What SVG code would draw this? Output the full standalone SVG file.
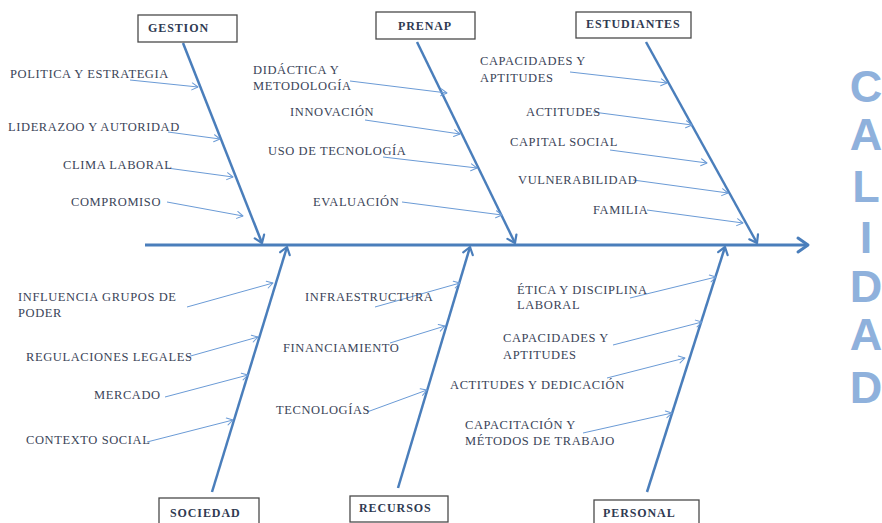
<svg xmlns="http://www.w3.org/2000/svg" width="882" height="523" viewBox="0 0 882 523">
<defs>
<marker id="bigArrow" markerUnits="userSpaceOnUse" markerWidth="20" markerHeight="20" viewBox="0 0 20 20" refX="13" refY="10" orient="auto">
<path d="M3,3 L13,10 L3,17" fill="none" stroke="#4a7ebb" stroke-width="3" stroke-linecap="round" stroke-linejoin="round"/>
</marker>
<marker id="boneArrow" markerUnits="userSpaceOnUse" markerWidth="16" markerHeight="16" viewBox="0 0 16 16" refX="11" refY="8" orient="auto">
<path d="M4,3 L11,8 L4,13" fill="none" stroke="#4a7ebb" stroke-width="2.2" stroke-linecap="round" stroke-linejoin="round"/>
</marker>
<marker id="smallArrow" markerUnits="userSpaceOnUse" markerWidth="12" markerHeight="12" viewBox="0 0 12 12" refX="9" refY="6" orient="auto">
<path d="M3,2.5 L9,6 L3,9.5" fill="none" stroke="#6b9bd6" stroke-width="1" stroke-linecap="round" stroke-linejoin="round"/>
</marker>
</defs>
<style>
.box{fill:#ffffff;stroke:#4a4a4a;stroke-width:1.3}
.head{font-family:"Liberation Serif","Times New Roman",serif;font-weight:bold;font-size:12px;letter-spacing:0.9px;fill:#2f3a52}
.lbl{font-family:"Liberation Serif","Times New Roman",serif;font-size:12.5px;letter-spacing:0.6px;fill:#3a4458}
.spine{stroke:#4a7ebb;stroke-width:3;fill:none}
.bone{stroke:#4a7ebb;stroke-width:2.5;fill:none}
.sub{stroke:#6b9bd6;stroke-width:1;fill:none}
.cal{font-family:"Liberation Sans",Arial,sans-serif;font-weight:bold;font-size:45px;fill:#8fb1dc;text-anchor:middle}
</style>
<rect width="882" height="523" fill="#ffffff"/>

<g id="connectors">
<line class="spine" x1="145" y1="245" x2="808" y2="245" marker-end="url(#bigArrow)"/>
<line class="bone" x1="183" y1="43" x2="262" y2="243" marker-end="url(#boneArrow)"/>
<line class="bone" x1="417" y1="42" x2="515" y2="243" marker-end="url(#boneArrow)"/>
<line class="bone" x1="646" y1="42" x2="757" y2="243" marker-end="url(#boneArrow)"/>
<line class="bone" x1="212" y1="492" x2="287" y2="247" marker-end="url(#boneArrow)"/>
<line class="bone" x1="398" y1="488" x2="470" y2="247" marker-end="url(#boneArrow)"/>
<line class="bone" x1="647" y1="492" x2="725" y2="247" marker-end="url(#boneArrow)"/>

<line class="sub" x1="130" y1="80" x2="198" y2="87" marker-end="url(#smallArrow)"/>
<line class="sub" x1="168" y1="132" x2="220" y2="139" marker-end="url(#smallArrow)"/>
<line class="sub" x1="167" y1="168" x2="233" y2="177" marker-end="url(#smallArrow)"/>
<line class="sub" x1="167" y1="202" x2="243" y2="216" marker-end="url(#smallArrow)"/>

<line class="sub" x1="350" y1="81" x2="447" y2="93" marker-end="url(#smallArrow)"/>
<line class="sub" x1="365" y1="120" x2="460" y2="134" marker-end="url(#smallArrow)"/>
<line class="sub" x1="383" y1="157" x2="477" y2="168" marker-end="url(#smallArrow)"/>
<line class="sub" x1="402" y1="202" x2="502" y2="215" marker-end="url(#smallArrow)"/>

<line class="sub" x1="570" y1="72" x2="667" y2="83" marker-end="url(#smallArrow)"/>
<line class="sub" x1="593" y1="112" x2="692" y2="125" marker-end="url(#smallArrow)"/>
<line class="sub" x1="610" y1="150" x2="707" y2="163" marker-end="url(#smallArrow)"/>
<line class="sub" x1="633" y1="180" x2="728" y2="193" marker-end="url(#smallArrow)"/>
<line class="sub" x1="647" y1="210" x2="743" y2="223" marker-end="url(#smallArrow)"/>

<line class="sub" x1="187" y1="307" x2="273" y2="283" marker-end="url(#smallArrow)"/>
<line class="sub" x1="187" y1="357" x2="258" y2="337" marker-end="url(#smallArrow)"/>
<line class="sub" x1="165" y1="397" x2="248" y2="375" marker-end="url(#smallArrow)"/>
<line class="sub" x1="147" y1="442" x2="233" y2="420" marker-end="url(#smallArrow)"/>

<line class="sub" x1="375" y1="307" x2="460" y2="283" marker-end="url(#smallArrow)"/>
<line class="sub" x1="390" y1="343" x2="445" y2="326" marker-end="url(#smallArrow)"/>
<line class="sub" x1="367" y1="412" x2="427" y2="390" marker-end="url(#smallArrow)"/>

<line class="sub" x1="630" y1="298" x2="716" y2="277" marker-end="url(#smallArrow)"/>
<line class="sub" x1="613" y1="345" x2="702" y2="322" marker-end="url(#smallArrow)"/>
<line class="sub" x1="607" y1="378" x2="685" y2="358" marker-end="url(#smallArrow)"/>
<line class="sub" x1="583" y1="433" x2="672" y2="413" marker-end="url(#smallArrow)"/>
</g>

<g id="gestion">
<rect class="box" x="138" y="15" width="99" height="27"/>
<text class="head" x="148" y="32">GESTION</text>
<text class="lbl" x="10" y="78">POLITICA Y ESTRATEGIA</text>
<text class="lbl" x="8" y="131">LIDERAZOO Y AUTORIDAD</text>
<text class="lbl" x="63" y="169">CLIMA LABORAL</text>
<text class="lbl" x="71" y="206">COMPROMISO</text>
</g>

<g id="prenap">
<rect class="box" x="376" y="12" width="99" height="27"/>
<text class="head" x="398" y="30">PRENAP</text>
<text class="lbl" x="253" y="74">DIDÁCTICA Y</text>
<text class="lbl" x="253" y="90">METODOLOGÍA</text>
<text class="lbl" x="290" y="116">INNOVACIÓN</text>
<text class="lbl" x="268" y="155">USO DE TECNOLOGÍA</text>
<text class="lbl" x="313" y="206">EVALUACIÓN</text>
</g>

<g id="estudiantes">
<rect class="box" x="576" y="12" width="115" height="26"/>
<text class="head" x="586" y="28">ESTUDIANTES</text>
<text class="lbl" x="480" y="65">CAPACIDADES Y</text>
<text class="lbl" x="480" y="82">APTITUDES</text>
<text class="lbl" x="526" y="116">ACTITUDES</text>
<text class="lbl" x="510" y="146">CAPITAL SOCIAL</text>
<text class="lbl" x="518" y="184">VULNERABILIDAD</text>
<text class="lbl" x="593" y="214">FAMILIA</text>
</g>

<g id="sociedad">
<rect class="box" x="159" y="498" width="100" height="30"/>
<text class="head" x="170" y="517">SOCIEDAD</text>
<text class="lbl" x="18" y="301">INFLUENCIA GRUPOS DE</text>
<text class="lbl" x="18" y="317">PODER</text>
<text class="lbl" x="26" y="361">REGULACIONES LEGALES</text>
<text class="lbl" x="94" y="399">MERCADO</text>
<text class="lbl" x="26" y="444">CONTEXTO SOCIAL</text>
</g>

<g id="recursos">
<rect class="box" x="350" y="496" width="98" height="26"/>
<text class="head" x="359" y="512">RECURSOS</text>
<text class="lbl" x="305" y="301">INFRAESTRUCTURA</text>
<text class="lbl" x="283" y="352">FINANCIAMIENTO</text>
<text class="lbl" x="276" y="414">TECNOLOGÍAS</text>
</g>

<g id="personal">
<rect class="box" x="594" y="500" width="105" height="30"/>
<text class="head" x="603" y="517">PERSONAL</text>
<text class="lbl" x="517" y="294">ÉTICA Y DISCIPLINA</text>
<text class="lbl" x="517" y="309">LABORAL</text>
<text class="lbl" x="503" y="342">CAPACIDADES Y</text>
<text class="lbl" x="503" y="359">APTITUDES</text>
<text class="lbl" x="450" y="389">ACTITUDES Y DEDICACIÓN</text>
<text class="lbl" x="465" y="429">CAPACITACIÓN Y</text>
<text class="lbl" x="465" y="445">MÉTODOS DE TRABAJO</text>
</g>

<g id="calidad">
<text class="cal" x="866" y="102">C</text>
<text class="cal" x="866" y="150">A</text>
<text class="cal" x="866" y="202">L</text>
<text class="cal" x="866" y="253">I</text>
<text class="cal" x="866" y="302">D</text>
<text class="cal" x="866" y="350">A</text>
<text class="cal" x="866" y="403">D</text>
</g>
</svg>
